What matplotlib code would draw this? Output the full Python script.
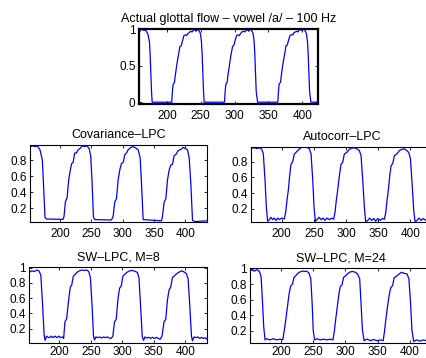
import matplotlib
matplotlib.use('Agg')
import matplotlib.pyplot as plt

plt.rcParams['font.family'] = ['Liberation Sans', 'DejaVu Sans']

# actual glottal flow (sample index, amplitude)
flow_x = [158.5, 160, 162, 164, 166, 168, 170, 172, 174, 175, 176, 177, 178,
          207, 208, 209, 211, 212, 214, 216, 218, 219, 221, 223, 225, 227, 229, 231, 233,
          235, 237, 239, 241, 243, 245, 247, 249, 250, 251, 252, 253, 254, 255,
          285, 286, 287, 289, 290, 292, 294, 296, 297, 299, 301, 303, 305, 307, 309, 311,
          313, 315, 317, 319, 321, 323, 325, 327, 328, 329, 330, 331, 332, 334,
          364, 365, 366, 368, 369, 371, 373, 375, 376, 378, 380, 382, 384, 386, 388, 390,
          392, 394, 396, 398, 400, 402, 404, 406, 407, 408, 409, 410, 411, 413,
          423.5]
flow_y = [0.96, 0.97, 1.0, 0.99, 0.98, 0.99, 0.96, 0.92, 0.82, 0.65, 0.40, 0.15, 0.0,
          0, 0.15, 0.24, 0.27, 0.35, 0.48, 0.60, 0.70, 0.76, 0.77, 0.84, 0.91, 0.92, 0.91, 0.94, 0.95,
          0.97, 0.96, 0.98, 0.99, 0.97, 1.0, 0.98, 0.95, 0.90, 0.82, 0.65, 0.40, 0.15, 0.0,
          0, 0.14, 0.24, 0.27, 0.36, 0.48, 0.61, 0.71, 0.76, 0.78, 0.85, 0.91, 0.92, 0.91, 0.94, 0.96,
          0.97, 0.96, 0.98, 0.99, 0.97, 1.0, 0.98, 0.95, 0.90, 0.82, 0.65, 0.40, 0.15, 0.0,
          0, 0.15, 0.25, 0.27, 0.35, 0.49, 0.60, 0.70, 0.77, 0.78, 0.85, 0.91, 0.92, 0.92, 0.95, 0.96,
          0.97, 0.96, 0.99, 0.99, 0.98, 1.0, 0.98, 0.95, 0.90, 0.82, 0.65, 0.40, 0.15, 0.0,
          0.0]

# covariance LPC estimate
cov_x = [151, 156, 160, 164, 168.2, 172, 174, 176.2, 178.5,
         205, 206.6, 208.7, 211.4, 214, 216.7, 218.8, 221, 223.6, 226.3, 229, 232.7, 235.4,
         238.6, 242.3, 246.6, 249.2, 251.4, 253.5, 255.6,
         282.2, 284.9, 287.5, 290.2, 292.9, 295.5, 298.2, 300.9, 303.5, 306.2, 308.8, 313.1,
         316.8, 320.5, 324.8, 328, 330.1, 332.8,
         362, 363.6, 366.3, 369, 371.6, 374.3, 376.9, 379.6, 382.2, 384.9, 388.6, 392.8,
         396.6, 400.3, 403.5, 406.2, 408.8, 411.5, 415.2, 434]
cov_y = [0.96, 0.98, 0.97, 0.98, 0.93, 0.805, 0.47, 0.09, 0.067,
         0.063, 0.10, 0.28, 0.33, 0.555, 0.68, 0.76, 0.77, 0.89, 0.89, 0.93, 0.95, 0.98,
         0.97, 0.98, 0.95, 0.85, 0.51, 0.09, 0.06,
         0.055, 0.10, 0.28, 0.32, 0.555, 0.68, 0.76, 0.77, 0.87, 0.89, 0.93, 0.96,
         0.97, 0.955, 0.93, 0.83, 0.51, 0.06,
         0.045, 0.10, 0.28, 0.32, 0.555, 0.68, 0.74, 0.75, 0.86, 0.87, 0.92, 0.935,
         0.96, 0.945, 0.93, 0.83, 0.51, 0.05, 0.035, 0.045]

# autocorrelation LPC estimate
auto_x = [153, 157.4, 161.5, 165.1, 168.8, 171.4, 174, 176.1, 178.1,
          180.7, 183.3, 185.9, 188.5, 191.1, 193.7, 196.3, 199.9, 204,
          206.1, 208.2, 210.3, 212.3, 214.4, 217, 219.6, 223.2, 227.4, 231, 235.2, 239.3,
          243, 245.6, 248.2, 250.2, 252.3,
          254.9, 258, 261.1, 264.2, 267.3, 270.4, 274, 277.6, 280.7,
          282.8, 284.9, 287, 289.6, 292.2, 294.7, 297.3, 301, 305.1, 308.7, 312.9, 317,
          320.7, 323.3, 325.9, 328.5, 330.5,
          333.6, 336.8, 339.9, 343, 346.1, 349.2, 352.9, 356.5, 359.6,
          361.7, 363.8, 365.8, 367.9, 370, 372.6, 375.2, 378.8, 383, 386.6, 390.7, 394.3,
          397.5, 400.1, 402.6, 405.2, 407.3,
          410.4, 413.5, 416.6, 419.7, 424.4, 427.5, 431, 434]
auto_y = [0.975, 0.98, 0.97, 0.98, 0.966, 0.90, 0.57, 0.22, 0.04,
          0.06, 0.09, 0.06, 0.08, 0.05, 0.08, 0.06, 0.08, 0.07,
          0.15, 0.31, 0.44, 0.62, 0.77, 0.80, 0.90, 0.93, 0.966, 0.985, 0.99, 0.985,
          0.966, 0.90, 0.57, 0.22, 0.04,
          0.06, 0.09, 0.06, 0.08, 0.05, 0.08, 0.06, 0.08, 0.065,
          0.15, 0.31, 0.44, 0.62, 0.77, 0.79, 0.90, 0.92, 0.96, 0.975, 0.98, 0.966,
          0.945, 0.88, 0.57, 0.22, 0.03,
          0.05, 0.08, 0.05, 0.075, 0.04, 0.075, 0.05, 0.075, 0.065,
          0.15, 0.31, 0.44, 0.62, 0.75, 0.78, 0.88, 0.90, 0.945, 0.96, 0.966, 0.945,
          0.92, 0.84, 0.53, 0.18, 0.03,
          0.05, 0.08, 0.05, 0.075, 0.05, 0.08, 0.05, 0.07]

# SW-LPC, M=8
sw8_x = [152, 156, 160, 164, 167, 169, 170.4, 173, 175.6, 177.2,
         179.4, 182, 184, 187, 190, 193, 196, 199, 202, 205,
         206.6, 208.7, 211.4, 214.6, 217.3, 219.4, 222, 224.7, 227.9, 231.6,
         235.4, 239.6, 243.3, 246.5, 249.2, 251.9, 254, 255.6,
         258, 261, 264, 267, 270, 273, 276, 279, 282,
         284.9, 287.5, 290.2, 292.9, 295.5, 298.2, 300.9, 303.5, 307.3, 311.5,
         315.8, 319.5, 323.7, 326.4, 329, 331.7, 333.8,
         336, 339, 342, 345, 348, 351, 354, 357, 360,
         363, 366.3, 369, 371.6, 374.3, 376.9, 379.6, 382.2, 386, 389.7,
         394, 398.2, 402, 404.6, 407.3, 409.9, 411.5,
         414, 417, 420, 423, 426, 429, 432, 434]
sw8_y = [0.94, 0.96, 0.95, 0.97, 0.96, 0.93, 0.89, 0.53, 0.11, 0.045,
         0.10, 0.085, 0.08, 0.10, 0.08, 0.10, 0.08, 0.10, 0.08, 0.09,
         0.07, 0.29, 0.33, 0.58, 0.75, 0.77, 0.89, 0.91, 0.94, 0.96,
         0.97, 0.965, 0.97, 0.95, 0.87, 0.49, 0.11, 0.05,
         0.09, 0.08, 0.09, 0.075, 0.09, 0.08, 0.09, 0.075, 0.07,
         0.10, 0.29, 0.32, 0.58, 0.73, 0.76, 0.89, 0.91, 0.94, 0.96,
         0.965, 0.955, 0.94, 0.87, 0.49, 0.09, 0.045,
         0.09, 0.075, 0.085, 0.07, 0.085, 0.07, 0.085, 0.07, 0.06,
         0.10, 0.29, 0.32, 0.57, 0.71, 0.745, 0.87, 0.89, 0.92, 0.94,
         0.96, 0.945, 0.92, 0.85, 0.49, 0.10, 0.04,
         0.09, 0.08, 0.09, 0.07, 0.085, 0.07, 0.08, 0.06]

# SW-LPC, M=24
sw24_x = [149.8, 154.9, 159, 162.7, 166.8, 169.4, 171.4, 173.5, 175.6,
          178.1, 183.3, 188.5, 193.7, 198.9, 203,
          205.1, 207.7, 210.3, 212.9, 215.4, 218, 220.6, 223.2, 226.3, 229.9,
          234.1, 237.7, 240.3, 243.9, 246.5, 248.6, 250.2, 252.3,
          255.9, 261.1, 266.3, 271.5, 276.7, 280.8,
          282.9, 285, 287.6, 290.2, 292.2, 294.8, 297.4, 300.5, 304.1, 307.8,
          311.4, 315.5, 319.2, 322.3, 324.4, 326.5, 329.1,
          333.7, 338.9, 344.1, 349.3, 354.5, 358.7,
          360.7, 362.8, 365.4, 368, 370.6, 373.2, 375.8, 378.9, 383, 387.2,
          391.3, 395.5, 398.6, 401.2, 403.3, 405.9,
          410.5, 415.7, 420.9, 426, 431, 434]
sw24_y = [0.98, 0.985, 0.97, 0.99, 0.965, 0.90, 0.60, 0.25, 0.08,
          0.095, 0.08, 0.095, 0.08, 0.09, 0.08,
          0.185, 0.34, 0.51, 0.68, 0.78, 0.80, 0.89, 0.91, 0.94, 0.96,
          0.97, 0.965, 0.97, 0.94, 0.87, 0.55, 0.21, 0.08,
          0.095, 0.08, 0.09, 0.08, 0.09, 0.08,
          0.185, 0.34, 0.51, 0.68, 0.77, 0.79, 0.89, 0.91, 0.94, 0.96,
          0.965, 0.955, 0.93, 0.87, 0.55, 0.21, 0.07,
          0.09, 0.07, 0.085, 0.07, 0.08, 0.07,
          0.185, 0.34, 0.51, 0.66, 0.76, 0.78, 0.885, 0.90, 0.93, 0.955,
          0.94, 0.935, 0.87, 0.55, 0.21, 0.06,
          0.08, 0.065, 0.08, 0.07, 0.08, 0.07]

x_ticks = [200, 250, 300, 350, 400]
x_labels = ['200', '250', '300', '350', '400']
top_yticks = [0, 0.5, 1]
top_ylabels = ['0', '0.5', '1']
mid_yticks = [0.2, 0.4, 0.6, 0.8]
mid_ylabels = ['0.2', '0.4', '0.6', '0.8']
low_yticks = [0.2, 0.4, 0.6, 0.8, 1]
low_ylabels = ['0.2', '0.4', '0.6', '0.8', '1']

W, H = 427, 358
fig = plt.figure(figsize=(W / 100, H / 100), dpi=100)


def add_box(left, top, right, bottom):
    # axes box given in pixels from the top-left corner
    return fig.add_axes([left / W, 1 - bottom / H, (right - left) / W, (bottom - top) / H])


def draw(ax, xs, ys, title, xlim, ylim, yticks, ylabels, frame=0.8, xpad=4):
    ax.plot(xs, ys, color='blue', linewidth=0.9)
    ax.set_xlim(xlim)
    ax.set_ylim(ylim)
    ax.set_xticks(x_ticks)
    ax.set_xticklabels(x_labels)
    ax.set_yticks(yticks)
    ax.set_yticklabels(ylabels)
    ax.tick_params(direction='in', length=2.5, width=0.6, top=True, right=True,
                   labelsize=8.5, colors='black')
    ax.tick_params(axis='x', pad=xpad)
    ax.tick_params(axis='y', pad=2.5)
    for s in ax.spines.values():
        s.set_linewidth(frame)
    ax.set_title(title, fontsize=9, pad=5)


# top panel: zero level sits just above the heavy frame
ax1 = add_box(139, 29, 318, 104)
draw(ax1, flow_x, flow_y, 'Actual glottal flow – vowel /a/ – 100 Hz',
     (158.5, 423.5), (-0.025, 1), top_yticks, top_ylabels, frame=1.6)

ax2 = add_box(30, 145, 207, 222)
draw(ax2, cov_x, cov_y, 'Covariance–LPC', (152.3, 434.6), (0.03, 0.99), mid_yticks, mid_ylabels)

ax3 = add_box(251.5, 147, 432.5, 222)
draw(ax3, auto_x, auto_y, 'Autocorr–LPC', (153, 434.4), (0.03, 0.99), mid_yticks, mid_ylabels)

ax4 = add_box(29.5, 267, 207, 343)
draw(ax4, sw8_x, sw8_y, 'SW–LPC, M=8', (152.3, 434.6), (0.01, 1.01), low_yticks, low_ylabels,
     xpad=2.5)

ax5 = add_box(250.5, 268, 432, 343)
draw(ax5, sw24_x, sw24_y, 'SW–LPC, M=24', (153, 434.4), (0.04, 1.01), low_yticks, low_ylabels,
     xpad=2.5)

plt.savefig('out.png', dpi=100)
